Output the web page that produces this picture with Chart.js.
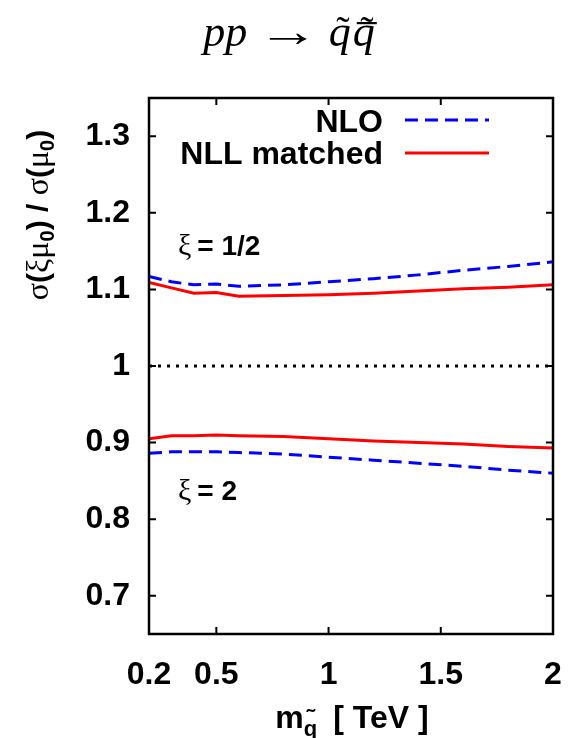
<!DOCTYPE html>
<html>
<head>
<meta charset="utf-8">
<script src="https://cdn.jsdelivr.net/npm/chart.js@4/dist/chart.umd.min.js"></script>
<style>
  body { margin: 0; background: #fff; }
  canvas { display: block; }
</style>
</head>
<body>
<canvas id="canvas" width="568" height="738"></canvas>
<script>
const ctx = document.getElementById("canvas");

// squark mass [TeV]
const masses = [0.2, 0.3, 0.4, 0.5, 0.6, 0.8, 1.0, 1.2, 1.4, 1.6, 1.8, 2.0];

// xi = 1/2
const nloHalf = [1.117, 1.110, 1.106, 1.107, 1.104, 1.106, 1.110, 1.114, 1.119, 1.125, 1.130, 1.136];
const nllHalf = [1.109, 1.102, 1.095, 1.096, 1.091, 1.092, 1.093, 1.095, 1.098, 1.101, 1.103, 1.106];

// xi = 2
const nloTwo = [0.886, 0.888, 0.888, 0.888, 0.887, 0.885, 0.881, 0.877, 0.873, 0.869, 0.864, 0.860];
const nllTwo = [0.905, 0.909, 0.909, 0.910, 0.909, 0.908, 0.905, 0.902, 0.900, 0.898, 0.895, 0.893];

const refLine = [1, 1];
const refX = [0.2, 2];

const xTicks = [0.2, 0.5, 1, 1.5, 2];
const xInnerTicks = [0.5, 1, 1.5];
const yTicks = [0.7, 0.8, 0.9, 1.0, 1.1, 1.2, 1.3];

const SANS = "'Liberation Sans', Arial, sans-serif";
const SERIF = "'Liberation Serif', 'Times New Roman', serif";

function pts(xs, ys) {
  return xs.map((x, i) => ({ x: x, y: ys[i] }));
}

function drawRuns(c, runs, x, y, align) {
  let w = 0;
  runs.forEach((r) => {
    c.font = r.font;
    r.w = c.measureText(r.t).width * (r.sx || 1);
    w += r.w + (r.gap || 0);
  });
  let cx = align === "center" ? x - w / 2 : align === "right" ? x - w : x;
  c.textAlign = "left";
  c.textBaseline = "alphabetic";
  runs.forEach((r) => {
    c.font = r.font;
    if (r.sx) {
      c.save();
      c.translate(cx, y + (r.dy || 0));
      c.scale(r.sx, 1);
      c.fillText(r.t, 0, 0);
      c.restore();
    } else {
      c.fillText(r.t, cx, y + (r.dy || 0));
    }
    r.x = cx;
    cx += r.w + (r.gap || 0);
  });
  return runs;
}

function tilde(c, r, font, y, shift) {
  c.font = font;
  c.textAlign = "center";
  c.fillText("\u02DC", r.x + r.w / 2 + (shift || 0), y);
}

const decorations = {
  id: "decorations",
  afterDraw(chart) {
    const c = chart.ctx;
    const { left, right, top, bottom } = chart.chartArea;
    const xs = chart.scales.x, ys = chart.scales.y;
    c.save();
    c.fillStyle = "#000";
    c.strokeStyle = "#000";

    // frame
    c.lineWidth = 2.5;
    c.strokeRect(left, top, right - left, bottom - top);

    // inner ticks on all four sides
    c.lineWidth = 2;
    c.beginPath();
    yTicks.forEach((v) => {
      const py = ys.getPixelForValue(v);
      c.moveTo(left, py); c.lineTo(left + 7, py);
      c.moveTo(right, py); c.lineTo(right - 7, py);
    });
    xInnerTicks.forEach((v) => {
      const px = xs.getPixelForValue(v);
      c.moveTo(px, bottom); c.lineTo(px, bottom - 7);
      c.moveTo(px, top); c.lineTo(px, top + 7);
    });
    c.stroke();

    // legend
    c.font = "bold 32px " + SANS;
    c.textAlign = "right";
    c.textBaseline = "alphabetic";
    c.fillText("NLO", 383, 132);
    c.fillText("NLL matched", 383, 164);
    c.lineWidth = 3;
    c.strokeStyle = "#0000ff";
    c.setLineDash([13, 7]);
    c.beginPath(); c.moveTo(405, 120); c.lineTo(489, 120); c.stroke();
    c.setLineDash([]);
    c.strokeStyle = "#ff0000";
    c.beginPath(); c.moveTo(405, 153); c.lineTo(489, 153); c.stroke();

    // xi labels
    c.fillStyle = "#000";
    drawRuns(c, [
      { t: "\u03BE", font: "30px " + SERIF, gap: 6 },
      { t: "= 1/2", font: "bold 28px " + SANS },
    ], 178, 255, "left");
    drawRuns(c, [
      { t: "\u03BE", font: "30px " + SERIF, gap: 6 },
      { t: "= 2", font: "bold 28px " + SANS },
    ], 178, 500, "left");

    // title
    const tf = "italic 44px " + SERIF;
    const tr = drawRuns(c, [
      { t: "pp", font: tf, gap: 10 },
      { t: "\u2192", font: "44px " + SERIF, sx: 1.4, gap: 10 },
      { t: "q", font: tf, gap: 2 },
      { t: "q", font: tf },
    ], 289, 46, "center");
    tilde(c, tr[2], "40px " + SERIF, 44, 3);
    tilde(c, tr[3], "40px " + SERIF, 44, 3);
    c.fillRect(tr[3].x + 4, 22, tr[3].w - 2, 2.2);

    // x axis title
    const xr = drawRuns(c, [
      { t: "m", font: "bold 32px " + SANS },
      { t: "q", font: "bold 22px " + SANS, dy: 8, gap: 16 },
      { t: "[ TeV ]", font: "bold 32px " + SANS },
    ], 352, 728, "center");
    c.font = "bold 24px " + SANS;
    c.textAlign = "center";
    c.fillText("\u02DC", xr[1].x + xr[1].w / 2, 726);

    // y axis title (rotated)
    c.translate(48, 215);
    c.rotate(-Math.PI / 2);
    const yb = "bold 30px " + SANS;
    const yg = "32px " + SERIF;
    const ysub = "bold 20px " + SANS;
    drawRuns(c, [
      { t: "\u03C3", font: yg },
      { t: "(", font: yb },
      { t: "\u03BE\u03BC", font: yg },
      { t: "0", font: ysub, dy: 6 },
      { t: ") / ", font: yb },
      { t: "\u03C3", font: yg },
      { t: "(", font: yb },
      { t: "\u03BC", font: yg },
      { t: "0", font: ysub, dy: 6 },
      { t: ")", font: yb },
    ], 0, 0, "center");
    c.restore();
  },
};

const tickFont = { family: SANS, size: 32, weight: "bold" };

new Chart(ctx, {
  type: "line",
  data: {
    datasets: [
      { data: pts(refX, refLine), borderColor: "#000", borderWidth: 3, borderDash: [3, 6] },
      { data: pts(masses, nloHalf), borderColor: "#0000ff", borderWidth: 3, borderDash: [13, 7] },
      { data: pts(masses, nllHalf), borderColor: "#ff0000", borderWidth: 3 },
      { data: pts(masses, nloTwo), borderColor: "#0000ff", borderWidth: 3, borderDash: [13, 7] },
      { data: pts(masses, nllTwo), borderColor: "#ff0000", borderWidth: 3 },
    ],
  },
  plugins: [decorations],
  options: {
    responsive: false,
    animation: false,
    layout: { padding: { top: 98, right: 15, left: 0, bottom: 0 } },
    elements: { point: { radius: 0 }, line: { tension: 0 } },
    plugins: { legend: { display: false }, tooltip: { enabled: false } },
    scales: {
      x: {
        type: "linear",
        min: 0.2,
        max: 2,
        afterBuildTicks: (s) => { s.ticks = xTicks.map((v) => ({ value: v })); },
        afterFit: (s) => { s.height = 104; s.paddingLeft = 0; s.paddingRight = 0; },
        grid: { display: false, drawTicks: false },
        border: { display: false },
        ticks: {
          font: tickFont,
          color: "#000",
          padding: 22,
          maxRotation: 0,
          autoSkip: false,
          callback: (v) => String(Number(v.toFixed(1))),
        },
      },
      y: {
        type: "linear",
        min: 0.65,
        max: 1.35,
        afterBuildTicks: (s) => { s.ticks = yTicks.map((v) => ({ value: v })); },
        afterFit: (s) => { s.width = 149; s.paddingTop = 0; s.paddingBottom = 0; },
        grid: { display: false, drawTicks: false },
        border: { display: false },
        ticks: {
          font: tickFont,
          color: "#000",
          padding: 19,
          autoSkip: false,
          callback: (v) => String(Number(v.toFixed(1))),
        },
      },
    },
  },
});
</script>
</body>
</html>
